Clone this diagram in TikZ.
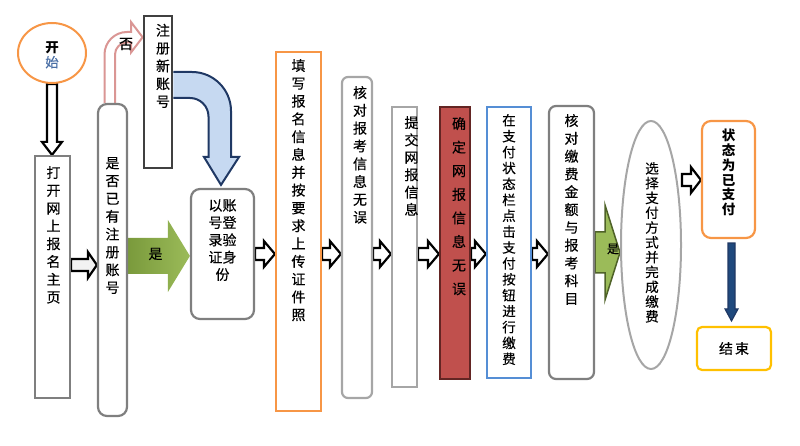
\documentclass[tikz,border=0pt]{standalone}
\usepackage{fontspec}
\setmainfont{Noto Sans CJK SC}[UprightFeatures={FakeBold=0.3}]
\usetikzlibrary{positioning, calc, shapes.geometric, backgrounds}
\XeTeXlinebreaklocale "zh"
\XeTeXlinebreakskip=0pt plus 1pt

\definecolor{kgorange}{HTML}{F79646}
\definecolor{kggray}{HTML}{7F7F7F}
\definecolor{kglight}{HTML}{A6A6A6}
\definecolor{kgdark}{HTML}{404040}
\definecolor{kgred}{HTML}{C0504D}
\definecolor{kgredline}{HTML}{632523}
\definecolor{kgblue}{HTML}{558ED5}
\definecolor{kggold}{HTML}{FFC000}
\definecolor{kgpink}{HTML}{DA9694}
\definecolor{kgsky}{HTML}{C6D9F1}
\definecolor{kgnavy}{HTML}{1F3864}
\definecolor{kgdeep}{HTML}{1F497D}
\definecolor{kggreen}{HTML}{9BBB59}
\definecolor{kgolive}{HTML}{4F6228}
\definecolor{kgmoss}{HTML}{7A9A3C}
\definecolor{kgink}{HTML}{4A6FA5}

\tikzset{
  box/.style={draw, line width=2.2pt, inner sep=0pt},
  vtext/.style={inner sep=0pt, align=center, text width=15pt, font=\fontsize{14}{17.8}\selectfont},
  hollow/.style={draw=black, fill=white, line width=2.2pt},
}

% block arrow to the right: style, from, to, shaft half, head half, head length
\newcommand{\harr}[6][]{%
  \path[#1] let \p1=(#2), \p2=(#3) in
    (\x1,\y1+#4) -- (\x2-#6,\y1+#4) -- (\x2-#6,\y1+#5) -- (\x2,\y1)
    -- (\x2-#6,\y1-#5) -- (\x2-#6,\y1-#4) -- (\x1,\y1-#4) -- cycle;}
% block arrow downwards
\newcommand{\varr}[6][]{%
  \path[#1] let \p1=(#2), \p2=(#3) in
    (\x1-#4,\y1) -- (\x1-#4,\y2+#6) -- (\x1-#5,\y2+#6) -- (\x1,\y2)
    -- (\x1+#5,\y2+#6) -- (\x1+#4,\y2+#6) -- (\x1+#4,\y1) -- cycle;}

\begin{document}
\begin{tikzpicture}[x=1pt, y=-1pt]
\useasboundingbox (0,0) rectangle (800,446);

\coordinate (r1) at (0,265);
\coordinate (r2) at (0,256);
\coordinate (r3) at (0,180);
\coordinate (r4) at (0,252.5);
\coordinate (rmid) at (0,254);

% boxes
\node[ellipse, draw=kgorange, line width=2pt, minimum width=68pt, minimum height=60pt] (start) at (52,53) {};
\node[box, draw=kggray, minimum width=35pt, minimum height=242pt] (b1) at (52.5,277) {};
\node[box, draw=kggray, rounded corners=9pt, minimum width=29pt, minimum height=312pt] (b2) at (112.5,260) {};
\node[box, draw=kgdark, line width=2.8pt, minimum width=28pt, minimum height=152pt] (b3) at (158,92) {};
\node[box, draw=kggray, rounded corners=9pt, minimum width=63pt, minimum height=130pt] (b4) at (222.5,254) {};
\node[box, draw=kgorange, minimum width=45pt, minimum height=359pt] (b5) at (298.5,231.5) {};
\node[box, draw=kglight, rounded corners=6pt, minimum width=30pt, minimum height=321pt] (b6) at (357,237.5) {};
\node[box, draw=kglight, minimum width=25pt, minimum height=280pt] (b7) at (404.5,247) {};
\node[box, draw=kgredline, fill=kgred, minimum width=30pt, minimum height=272pt] (b8) at (455,243) {};
\node[box, draw=kgblue, minimum width=44pt, minimum height=271pt] (b9) at (509,242.5) {};
\node[box, draw=kggray, rounded corners=7pt, minimum width=45pt, minimum height=273pt] (b10) at (571.5,242.5) {};
\node[ellipse, draw=kglight, line width=2pt, minimum width=60pt, minimum height=248pt] (e11) at (651,245) {};
\node[box, draw=kgorange, rounded corners=9pt, minimum width=53pt, minimum height=117pt] (b12) at (728.5,179.5) {};
\node[box, draw=kggold, rounded corners=5pt, minimum width=74pt, minimum height=43pt] (b13) at (734,348.5) {};

% texts
\node[inner sep=0pt, align=center, font=\fontsize{13.5}{15}\selectfont] (t0) at (52,55) {\textbf{开}\\\textcolor{kgink}{始}};
\node[vtext, below=11pt of b1.north, xshift=1pt] (t1) {打开网上报名主页};
\node[vtext, below=54pt of b2.north] (t2) {是否已有注册账号};
\node[vtext, below=9pt of b3.north, xshift=5pt] (t3) {注册新账号};
\node[vtext, text width=30pt, font=\fontsize{14}{17.3}\selectfont, below=11pt of b4.north] (t4) {以账号登录验证身份};
\node[vtext, below=8pt of b5.north] (t5) {填写报名信息并按要求上传证件照};
\node[vtext, below=10pt of b6.north, xshift=3pt] (t6) {核对报考信息无误};
\node[vtext, font=\fontsize{14}{17.4}\selectfont, below=10pt of b7.north, xshift=7pt] (t7) {提交网报信息};
\node[vtext, font=\fontsize{14}{23.6}\selectfont, below=11pt of b8.north, xshift=4pt] (t8) {确定网报信息无误};
\node[vtext, font=\fontsize{13.5}{15.9}\selectfont, below=8pt of b9.north] (t9) {在支付状态栏点击支付按钮进行缴费};
\node[vtext, below=9pt of b10.north] (t10) {核对缴费金额与报考科目};
\node[vtext, font=\fontsize{13.5}{14.8}\selectfont, below=42pt of e11.north, xshift=1pt] (t11) {选择支付方式并完成缴费};
\node[vtext, font=\fontsize{13.5}{14.8}\selectfont\bfseries, below=9pt of b12.north] (t12) {状态为已支付};
\node[inner sep=0pt, font=\fontsize{14}{16}\selectfont] (t13) at (b13) {结\hspace{2pt}束};

% arrows
\begin{scope}[on background layer]
\varr[hollow]{start.south}{b1.north}{5pt}{10pt}{13pt}
\harr[hollow, fill=gray!10]{b1.east |- r1}{b2.west |- r1}{6pt}{13pt}{9pt}
\harr[left color=kgmoss, right color=kggreen]{b2.east |- r2}{b4.west |- r2}{18pt}{36pt}{22pt}
\harr[hollow]{b4.east |- rmid}{b5.west |- rmid}{6pt}{13pt}{11pt}
\harr[hollow]{b5.east |- rmid}{b6.west |- rmid}{6pt}{13pt}{11pt}
\harr[hollow]{b6.east |- rmid}{b7.west |- rmid}{6pt}{13pt}{11pt}
\harr[hollow]{b7.east |- rmid}{b8.west |- rmid}{6pt}{13pt}{11pt}
\harr[hollow]{b8.east |- rmid}{b9.west |- rmid}{6pt}{13pt}{11pt}
\harr[hollow]{b9.east |- rmid}{b10.west |- rmid}{6pt}{13pt}{11pt}
\harr[draw=kgolive, fill=kggreen, line width=1.5pt]{b10.east |- r4}{e11.west |- r4}{20.5pt}{47.5pt}{15pt}
\harr[hollow]{e11.east |- r3}{b12.west |- r3}{6pt}{13pt}{10pt}
\varr[draw=kgnavy, fill=kgdeep, line width=1.2pt]{$(b12.south)+(3,4)$}{$(b13.north)+(-3,-5)$}{3.5pt}{6.5pt}{12pt}
% no: up and round to the new account
\draw[draw=kgpink, fill=white, line width=2pt]
  (104.5,0 |- b2.north) -- (104.5,54.5) .. controls (104.5,42.1) and (114.6,32) .. (127,32)
  -- (131,32) -- (131,22) -- (b3.west |- 0,37.25) -- (131,52.5) -- (131,42.5) -- (127,42.5)
  .. controls (120.4,42.5) and (115,47.9) .. (115,54.5) -- (115,0 |- b2.north);
% new account down to login
\draw[draw=kgnavy, fill=kgsky, line width=2pt]
  (b3.east |- 0,98) -- (190,98) .. controls (200.2,98) and (208.5,106.3) .. (208.5,116.5)
  -- (208.5,157) -- (204,157) -- ($(b4.north)+(-1.5,-3)$) -- (239,157) -- (231,157) -- (231,111)
  .. controls (231,89.5) and (213.5,72) .. (192,72) -- (b3.east |- 0,72);
\end{scope}

% labels
\node[inner sep=0pt, font=\fontsize{14}{16}\selectfont] (lno) at (126,44) {否};
\node[inner sep=0pt, font=\fontsize{14}{16}\selectfont] (lyes1) at (155.5,254) {是};
\node[inner sep=0pt, font=\fontsize{12}{14}\selectfont] (lyes2) at (613,249) {是};
\end{tikzpicture}
\end{document}
